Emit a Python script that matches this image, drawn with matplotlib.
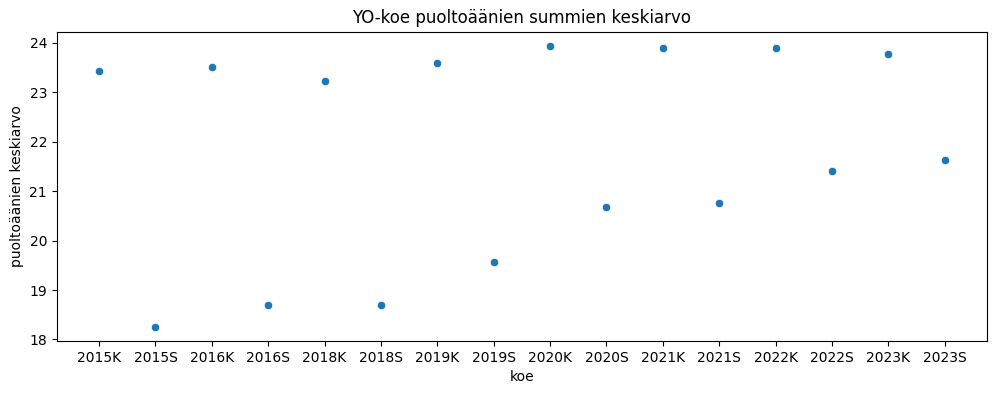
import matplotlib
matplotlib.use("Agg")
import matplotlib.pyplot as plt
import seaborn as sns
import pandas as pd

kokeet = ["2015K", "2015S", "2016K", "2016S", "2018K", "2018S", "2019K", "2019S",
          "2020K", "2020S", "2021K", "2021S", "2022K", "2022S", "2023K", "2023S"]
keskiarvot = [23.43, 18.25, 23.51, 18.70, 23.23, 18.70, 23.60, 19.57,
              23.94, 20.67, 23.90, 20.77, 23.90, 21.40, 23.78, 21.63]

df = pd.DataFrame({"koe": kokeet, "puoltoäänien keskiarvo": keskiarvot})

fig = plt.figure(figsize=(9.97, 3.93), dpi=100)
ax = fig.add_axes([0.057, 0.132, 0.933, 0.787])
sns.scatterplot(data=df, x="koe", y="puoltoäänien keskiarvo", ax=ax)
ax.set_title("YO-koe puoltoäänien summien keskiarvo")
fig.savefig("out.png", dpi=100)
